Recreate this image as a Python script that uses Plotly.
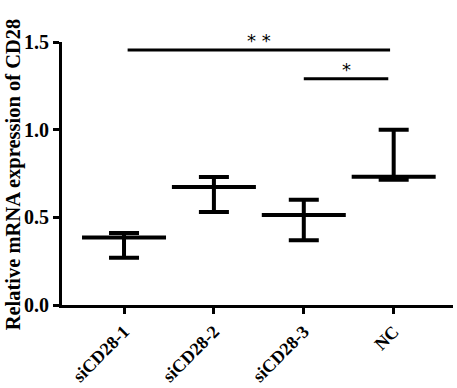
import plotly.graph_objects as go

categories = ["siCD28-1", "siCD28-2", "siCD28-3", "NC"]
means = [0.385, 0.673, 0.513, 0.731]
upper = [0.41, 0.73, 0.60, 1.00]
lower = [0.27, 0.53, 0.37, 0.714]
y_ticks = [0.0, 0.5, 1.0, 1.5]
y_tick_labels = ["0.0", "0.5", "1.0", "1.5"]

x = list(range(len(categories)))
err_plus = [u - m for u, m in zip(upper, means)]
err_minus = [m - l for m, l in zip(means, lower)]

font_family = "Liberation Serif, Times New Roman, serif"

fig = go.Figure()
fig.add_trace(go.Scatter(
    x=x, y=means, mode="markers",
    marker=dict(symbol="line-ew", size=60, color="black",
                line=dict(width=4, color="black")),
    error_y=dict(type="data", symmetric=False, array=err_plus,
                 arrayminus=err_minus, thickness=4, width=15, color="black"),
    showlegend=False, hoverinfo="skip", cliponaxis=False,
))

# significance brackets
fig.add_shape(type="line", xref="x", yref="y", x0=0.04, x1=2.96, y0=1.455, y1=1.455,
              line=dict(color="black", width=3))
fig.add_shape(type="line", xref="x", yref="y", x0=2.0, x1=2.94, y0=1.29, y1=1.29,
              line=dict(color="black", width=3))
fig.add_annotation(x=1.5, y=1.455, xref="x", yref="y", text="* *", showarrow=False,
                   yanchor="bottom", yshift=-3, font=dict(family="DejaVu Sans", size=18, color="black"))
fig.add_annotation(x=2.47, y=1.29, xref="x", yref="y", text="*", showarrow=False,
                   yanchor="bottom", yshift=-3, font=dict(family="DejaVu Sans", size=18, color="black"))

# y axis title
fig.add_annotation(x=-0.124, y=0.495, xref="paper", yref="paper",
                   text="<b>Relative mRNA expression of CD28</b>", textangle=-90,
                   showarrow=False, xanchor="center", yanchor="middle",
                   font=dict(family=font_family, size=20.5, color="black"))

fig.update_layout(
    width=457, height=388,
    margin=dict(l=62, r=4, t=42, b=83),
    paper_bgcolor="white", plot_bgcolor="white",
    font=dict(family=font_family, color="black"),
    xaxis=dict(
        range=[-0.69, 3.66], tickmode="array", tickvals=x, ticktext=categories,
        tickangle=-45, showgrid=False, zeroline=False, automargin=False,
        showline=True, linewidth=3, linecolor="black",
        ticks="outside", ticklen=6, tickwidth=3, tickcolor="black",
        tickfont=dict(family=font_family, size=18, color="black", weight="bold"),
    ),
    yaxis=dict(
        range=[0, 1.5], tickmode="array", tickvals=y_ticks, ticktext=y_tick_labels,
        showgrid=False, zeroline=False, automargin=False,
        showline=True, linewidth=3, linecolor="black",
        ticks="outside", ticklen=6, tickwidth=3, tickcolor="black",
        tickfont=dict(family=font_family, size=20, color="black", weight="bold"),
    ),
)

fig.write_html("out.html", config={"displayModeBar": False},
               post_script="document.body.style.margin='0';document.body.style.padding='0';document.body.style.overflow='hidden';")
